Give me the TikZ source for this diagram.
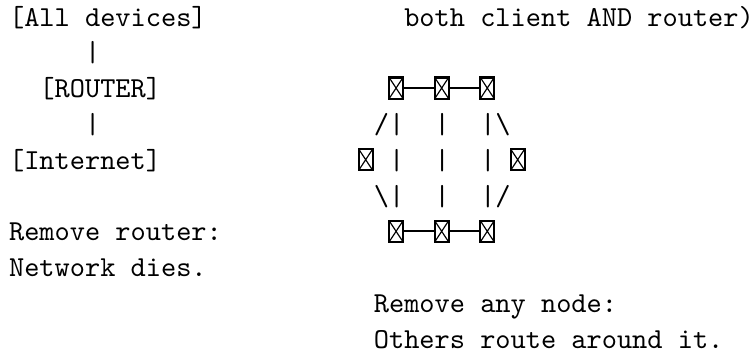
\documentclass[tikz,border=0pt]{standalone}
\usepackage{fontspec}
\begin{document}
\begin{tikzpicture}[x=5.25pt, y=-12.37pt, font=\ttfamily,
	txt/.style={anchor=base west, inner sep=0pt},
	peer/.style={draw, line width=0.75pt, minimum width=4.8pt, minimum height=7.3pt, inner sep=0pt, yshift=3.3pt,
		path picture={\draw[line width=0.4pt] (path picture bounding box.south west) -- (path picture bounding box.north east)
			(path picture bounding box.north west) -- (path picture bounding box.south east);}},
	link/.style={line width=0.6pt}]

	\useasboundingbox (0pt,0pt) rectangle (260.1pt,-123.3pt);

\begin{scope}[shift={(2.94pt,-8.98pt)}]

	% one router for everybody
	\node[txt] (devices) at (0,0) {[All devices]};
	\node[txt] (bar1) at (5,1) {|};
	\node[txt] (router) at (2,2) {[ROUTER]};
	\node[txt] (bar3) at (5,3) {|};
	\node[txt] (internet) at (0,4) {[Internet]};

	\node[txt] (dies1) at (0,6) {Remove router:};
	\node[txt] (dies2) at (0,7) {Network dies.};

	% the mesh
	\node[txt] (both) at (26,0) {both client AND router)};

	\foreach \c/\n in {25/a,28/b,31/c}
	{
		\node[peer] (top\n) at (\c.5,2) {};
		\node[peer] (bot\n) at (\c.5,6) {};
	}
	\node[peer] (left) at (23.5,4) {};
	\node[peer] (right) at (33.5,4) {};

	\draw[link] (topa)--(topb)--(topc);
	\draw[link] (bota)--(botb)--(botc);

	\foreach \r in {3,4,5}
		\foreach \c in {25,28,31}
			\node[txt] (bar\r-\c) at (\c,\r) {|};

	\node[txt] (slashA) at (24,3) {/};
	\node[txt] (slashB) at (32,3) {\textbackslash};
	\node[txt] (slashC) at (24,5) {\textbackslash};
	\node[txt] (slashD) at (32,5) {/};

	\node[txt] (any1) at (24,8) {Remove any node:};
	\node[txt] (any2) at (24,9) {Others route around it.};

\end{scope}

\end{tikzpicture}
\end{document}
